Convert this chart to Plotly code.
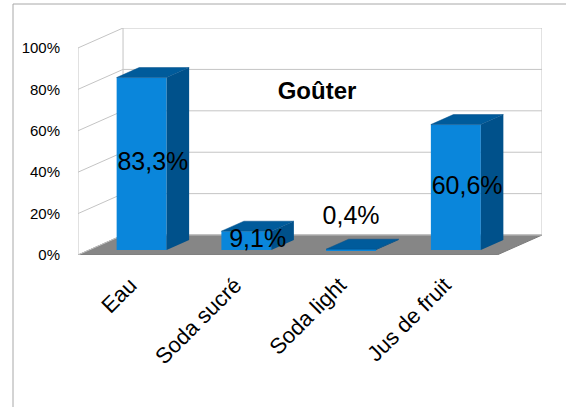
import plotly.graph_objects as go

categories = ["Eau", "Soda sucré", "Soda light", "Jus de fruit"]
values = [0.833, 0.091, 0.004, 0.606]
value_labels = ["83,3%", "9,1%", "0,4%", "60,6%"]
y_ticks = [0, 0.2, 0.4, 0.6, 0.8, 1.0]
y_tick_text = ["0%", "20%", "40%", "60%", "80%", "100%"]

# pseudo 3D: depth of the floor in axis units (x in categories, y in fraction)
DX, DY = 0.43, 0.0964
BAR_W = 0.477
FONT = "Liberation Sans"
GRID = "#c4c4c4"

x0, x1 = -0.5, len(categories) - 0.5

fig = go.Figure()

# floor (below the bars)
fig.add_shape(type="path", xref="x", yref="y", layer="below",
              path=f"M {x0},0 L {x1},0 L {x1 + DX},{DY} L {x0 + DX},{DY} Z",
              fillcolor="#868686", line=dict(color="#7a7a7a", width=1))

# back wall + left wall grid
for v in y_ticks:
    fig.add_shape(type="line", xref="x", yref="y", layer="below",
                  x0=x0, y0=v, x1=x0 + DX, y1=v + DY, line=dict(color=GRID, width=1))
    fig.add_shape(type="line", xref="x", yref="y", layer="below",
                  x0=x0 + DX, y0=v + DY, x1=x1 + DX, y1=v + DY, line=dict(color=GRID, width=1))
for xa, ya, xb, yb in [(x0, 0, x0, 1), (x0 + DX, DY, x0 + DX, 1 + DY),
                       (x1 + DX, DY, x1 + DX, 1 + DY)]:
    fig.add_shape(type="line", xref="x", yref="y", layer="below",
                  x0=xa, y0=ya, x1=xb, y1=yb, line=dict(color=GRID, width=1))

# bars: front faces
bx = [i + 0.25 * DX for i in range(len(categories))]
base = 0.25 * DY
fig.add_trace(go.Bar(x=bx, y=values, base=[base] * len(values), width=BAR_W,
                     marker=dict(color="#0a86db", line=dict(width=0)),
                     hoverinfo="skip"))

# side and top faces
dd, ddy = 0.5 * DX, 0.5 * DY
sx, sy, tx, ty = [], [], [], []
for x, v in zip(bx, values):
    l, r = x - BAR_W / 2, x + BAR_W / 2
    top = base + v
    sx += [r, r, r + dd, r + dd, r, None]
    sy += [base, top, top + ddy, base + ddy, base, None]
    tx += [l, r, r + dd, l + dd, l, None]
    ty += [top, top, top + ddy, top + ddy, top, None]
fig.add_trace(go.Scatter(x=sx, y=sy, fill="toself", fillcolor="#00518b", mode="lines",
                         line=dict(width=0, color="#00518b"), hoverinfo="skip"))
fig.add_trace(go.Scatter(x=tx, y=ty, fill="toself", fillcolor="#005b9b", mode="lines",
                         line=dict(width=0.5, color="#004f88"), hoverinfo="skip"))

# value labels
lx, ly = [], []
for x, v in zip(bx, values):
    if v < 0.05:
        lx.append(x)
        ly.append(base + v + 0.15)
    else:
        lx.append(x + dd / 2)
        ly.append(base + v / 2)
fig.add_trace(go.Scatter(x=lx, y=ly, mode="text", text=value_labels,
                         textfont=dict(family=FONT, size=25, color="black"),
                         hoverinfo="skip", cliponaxis=False))

fig.update_layout(
    width=566, height=407,
    margin=dict(l=78, r=24, t=28, b=152),
    paper_bgcolor="white", plot_bgcolor="white",
    showlegend=False,
    title=dict(text="<b>Goûter</b>", x=317 / 566, y=1 - 91 / 407,
               xanchor="center", yanchor="middle",
               font=dict(family=FONT, size=24, color="black")),
    font=dict(family=FONT, color="black"),
)
fig.update_xaxes(range=[x0, x1 + DX], tickvals=list(range(len(categories))),
                 ticktext=categories, tickangle=-45, showgrid=False, zeroline=False,
                 showline=False, ticks="", ticklabelstandoff=12,
                 tickfont=dict(family=FONT, size=22, color="black"))
fig.update_yaxes(range=[0, 1 + DY], tickvals=y_ticks, ticktext=y_tick_text,
                 showgrid=False, zeroline=False, showline=False, ticks="",
                 ticklabelstandoff=17,
                 tickfont=dict(family=FONT, size=15, color="black"))

# outer frame of the chart area (top and left edges)
fig.add_shape(type="line", xref="paper", yref="paper",
              x0=(13 - 78) / 464, y0=(255 - 4) / 227, x1=(566 - 78) / 464, y1=(255 - 4) / 227,
              line=dict(color="#a8a8a8", width=1))
fig.add_shape(type="line", xref="paper", yref="paper",
              x0=(13 - 78) / 464, y0=(255 - 4) / 227, x1=(13 - 78) / 464, y1=(255 - 407) / 227,
              line=dict(color="#a8a8a8", width=1))

# drop the default 8px body margin so the figure sits at the window origin
fig.write_html("out.html", config={"displayModeBar": False},
               post_script="document.body.style.margin='0';")
